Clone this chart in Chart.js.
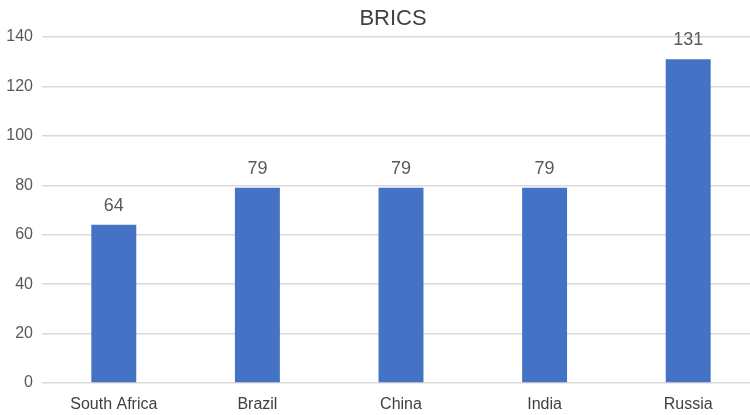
<!DOCTYPE html>
<html>
<head>
<meta charset="utf-8">
<script src="https://cdn.jsdelivr.net/npm/chart.js@4/dist/chart.umd.min.js"></script>
<style>
  html, body { margin: 0; padding: 0; background: #ffffff; overflow: hidden; }
  #wrap { width: 786px; height: 415px; }
</style>
</head>
<body>
<div id="wrap"><canvas id="c" width="786" height="415"></canvas></div>
<script>
// BRICS comparison
const countries = ['South Africa', 'Brazil', 'China', 'India', 'Russia'];
const scores = [64, 79, 79, 79, 131];
const yTicks = [0, 20, 40, 60, 80, 100, 120, 140];

const sans = "'Liberation Sans', Arial, sans-serif";

// Value labels above each bar, positioned from the bar elements
const valueLabels = {
  id: 'valueLabels',
  afterDatasetsDraw(chart) {
    const ctx = chart.ctx;
    const meta = chart.getDatasetMeta(0);
    ctx.save();
    ctx.fillStyle = '#595959';
    ctx.font = "18px " + sans;
    ctx.textAlign = 'center';
    ctx.textBaseline = 'alphabetic';
    meta.data.forEach((bar, i) => {
      ctx.fillText(String(chart.data.datasets[0].data[i]), bar.x, bar.y - 14);
    });
    ctx.restore();
  }
};

new Chart(document.getElementById('c'), {
  type: 'bar',
  data: {
    labels: countries,
    datasets: [{
      data: scores,
      backgroundColor: '#4472C4',
      categoryPercentage: 1.0,
      barPercentage: 0.313
    }]
  },
  options: {
    responsive: false,
    animation: false,
    layout: { padding: 0 },
    plugins: {
      legend: { display: false },
      tooltip: { enabled: false },
      title: {
        display: true,
        text: 'BRICS',
        color: '#404040',
        font: { family: sans, size: 22, weight: 'normal', lineHeight: 1.2 },
        padding: { top: 6, bottom: 4.6 }
      }
    },
    scales: {
      x: {
        grid: { display: false },
        border: { display: false },
        ticks: {
          color: '#404040',
          font: { family: sans, size: 16 },
          padding: 4,
          maxRotation: 0
        },
        afterFit(scale) { scale.height = 32; }
      },
      y: {
        min: 0,
        max: 140,
        afterBuildTicks(scale) { scale.ticks = yTicks.map(v => ({ value: v })); },
        grid: { color: '#d9d9d9', lineWidth: 1.5, drawTicks: false },
        border: { display: false },
        ticks: {
          color: '#595959',
          font: { family: sans, size: 16 },
          padding: 9
        },
        afterFit(scale) { scale.width = 42; }
      },
      // empty right-hand margin axis
      yRight: {
        position: 'right',
        min: 0,
        max: 140,
        grid: { display: false, drawTicks: false },
        border: { display: false },
        ticks: { display: false },
        afterFit(scale) { scale.width = 26; }
      }
    }
  },
  plugins: [valueLabels]
});
</script>
</body>
</html>
